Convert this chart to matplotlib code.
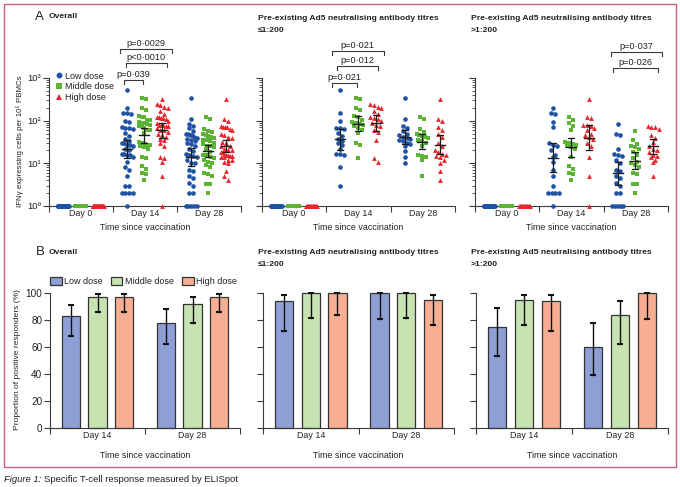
import numpy as np
import matplotlib
matplotlib.use('Agg')
import matplotlib.pyplot as plt
from matplotlib.patches import Rectangle, Patch
from matplotlib.lines import Line2D

FAM = ['Liberation Sans', 'DejaVu Sans']
plt.rcParams['font.family'] = FAM
plt.rcParams['axes.linewidth'] = 0.8

# ---------------- data ----------------
days = ['Day 0', 'Day 14', 'Day 28']
bar_days = ['Day 14', 'Day 28']
doses = ['Low dose', 'Middle dose', 'High dose']

# IFN-gamma ELISpot counts (non-responders plotted at 1)
# pre-existing Ad5 NAb <=1:200
le_low_d14 = [520, 150, 100, 68, 66, 64, 52, 44, 38, 34, 30, 27, 22, 17, 17, 16, 8, 3]
le_mid_d14 = [340, 320, 200, 180, 130, 120, 105, 95, 90, 85, 80, 75, 66, 60, 52, 30, 27, 13]
le_high_d14 = [250, 230, 210, 200, 170, 140, 125, 115, 110, 100, 88, 80, 75, 62, 55, 35, 13, 11]
le_low_d28 = [340, 110, 75, 66, 58, 50, 46, 42, 40, 38, 35, 33, 30, 28, 25, 19, 14, 10]
le_mid_d28 = [125, 110, 63, 55, 50, 46, 44, 42, 40, 36, 33, 30, 26, 16, 15, 14, 12, 5]
le_high_d28 = [330, 110, 100, 70, 60, 48, 42, 30, 26, 20, 18, 17, 16, 15, 14, 12, 10, 6.5, 4]
# pre-existing Ad5 NAb >1:200
gt_low_d14 = [200, 150, 140, 95, 70, 30, 27, 25, 20, 16, 14, 11, 7, 5, 3, 2, 2, 2, 2, 1]
gt_mid_d14 = [120, 105, 90, 75, 60, 32, 30, 28, 27, 25, 24, 22, 14, 8.5, 7.5, 6, 5.5, 4]
gt_high_d14 = [320, 125, 115, 80, 78, 75, 68, 60, 50, 45, 42, 38, 30, 25, 14, 5, 1]
gt_low_d28 = [85, 50, 45, 22, 17, 16, 15, 12, 10, 7, 6.5, 5, 4.5, 3.5, 3, 2, 2, 1, 1, 1, 1, 1]
gt_mid_d28 = [57, 35, 28, 26, 24, 22, 18, 16, 13, 11, 10, 9, 8, 6, 5.5, 3.2, 3.2, 2]
gt_high_d28 = [75, 72, 70, 65, 46, 40, 32, 25, 22, 20, 18, 16, 15, 14, 12, 11, 5]
baseline_value = 1  # day 0: no responders

# p-value brackets: (day, x0, x1, y, label)
a1_brackets = [(1, -0.33, -0.03, 897, 'p=0·039'),
               (1, -0.30, 0.34, 2245, 'p<0·0010'),
               (1, -0.39, 0.42, 4786, 'p=0·0029')]
a2_brackets = [(1, -0.41, -0.02, 763, 'p=0·021'),
               (1, -0.34, 0.31, 1910, 'p=0·012'),
               (1, -0.41, 0.39, 4294, 'p=0·021')]
a3_brackets = [(2, -0.35, 0.34, 1714, 'p=0·026'),
               (2, -0.38, 0.40, 4064, 'p=0·037')]

# proportion of positive responders (%) with 95% CI, [Day 14, Day 28]
ov_pct = [[83, 78], [97, 92], [97, 97]]
ov_lo = [[68, 62], [86, 78], [86, 86]]
ov_hi = [[91, 88], [99, 97], [99, 99]]
le_pct = [[94, 100], [100, 100], [100, 94.5]]
le_lo = [[72, 80.5], [81.5, 81.5], [84, 76.5]]
le_hi = [[98.3, 100], [100, 100], [100, 98.7]]
gt_pct = [[75, 60], [94.5, 84], [93.8, 100]]
gt_lo = [[53, 39], [76, 62], [71.6, 80.5]]
gt_hi = [[88.6, 78], [98.7, 94], [98.3, 100]]

# ---------------- style ----------------
W, H = 680, 487
fig = plt.figure(figsize=(W / 100, H / 100), dpi=100)

def fx(px):
    return px / W

def fy(py):
    return 1 - py / H

C_PTS = ['#1f52a3', '#5bb434', '#e5262b']
MARK = ['o', 's', '^']
MSIZE = [11, 9.5, 12]
C_BAR = ['#8e9fd6', '#c7e3b1', '#f8ae92']
AX = '#3a3a3a'
TXT = '#222222'
dose_off = [-0.28, -0.01, 0.27]
bar_off = [-0.28, 0.0, 0.28]
FS_TICK = 6.4
FS_TITLE = 6.1

top_x = [(49, 241), (262, 455), (475, 668)]
top_y = (78, 206)
bot_x = [(50, 240), (263, 454), (476, 668)]
bot_y = (293, 428)

def make_ax(xp, yp):
    return fig.add_axes([fx(xp[0]), fy(yp[1]), (xp[1] - xp[0]) / W, (yp[1] - yp[0]) / H])

def style_ax(ax):
    for s in ['top', 'right']:
        ax.spines[s].set_visible(False)
    for s in ['left', 'bottom']:
        ax.spines[s].set_color(AX)
        ax.spines[s].set_linewidth(0.8)
    ax.tick_params(which='major', length=4, width=0.8, color=AX, labelsize=FS_TICK, pad=1.5,
                   labelcolor=TXT)
    ax.tick_params(which='minor', length=2, width=0.6, color=AX, labelsize=FS_TICK, labelcolor=TXT)
    ax.patch.set_alpha(0)

def swarm(vals, w_px, h_px, xspan, row_px=4.2, d_px=4.0, maxw_px=11.0):
    vals = np.asarray(vals, float)
    py = np.log10(vals) * h_px / 3.0
    order = np.argsort(-py, kind='stable')
    offs = np.zeros(len(vals))
    i = 0
    while i < len(order):
        start = py[order[i]]
        j = i
        while j + 1 < len(order) and start - py[order[j + 1]] < row_px:
            j += 1
        row = order[i:j + 1]
        k = len(row)
        s = d_px if k == 1 else min(d_px, maxw_px / (k - 1))
        offs[row] = (np.arange(k) - (k - 1) / 2) * s
        i = j + 1
    return offs * xspan / w_px

def gm_ci(vals):
    lv = np.log10(np.asarray(vals, float))
    m = lv.mean()
    se = lv.std(ddof=1) / np.sqrt(len(lv))
    t = 2.08
    return 10 ** m, 10 ** (m - t * se), 10 ** (m + t * se)

def plot_top(ax, groups, xp, brackets, labels):
    w_px = xp[1] - xp[0]
    h_px = top_y[1] - top_y[0]
    ax.set_yscale('log')
    ax.set_ylim(1, 1000)
    ax.set_xlim(-0.5, 2.5)
    style_ax(ax)
    ax.set_xticks([-0.5, 0.5, 1.5, 2.5])
    ax.set_xticklabels([])
    ax.set_xticks([0, 1, 2], minor=True)
    ax.set_xticklabels(days, minor=True)
    ax.tick_params(axis='x', which='minor', length=0, pad=2.5)
    ax.set_yticks([1, 10, 100, 1000])
    ax.set_yticks([m * 10 ** e for e in range(3) for m in range(2, 10)], minor=True)
    if labels:
        ax.set_yticklabels(['10⁰', '10¹', '10²', '10³'])
        ax.tick_params(axis='y', labelsize=6.8)
    else:
        ax.set_yticklabels([])
    ax.yaxis.set_minor_formatter(plt.NullFormatter())
    upx = 3.0 / w_px
    for di in range(3):
        for gi in range(3):
            vals = np.asarray(groups[di][gi], float)
            x0 = di + dose_off[gi]
            offs = swarm(vals, w_px, h_px, 3.0)
            ax.scatter(x0 + offs, vals, s=MSIZE[gi], marker=MARK[gi], c=C_PTS[gi],
                       linewidths=0, clip_on=False, zorder=3)
            if di > 0:
                g, lo, hi = gm_ci(vals)
                ax.plot([x0 - 5 * upx, x0 + 5 * upx], [g, g], color='#1a1a1a', lw=1.0, zorder=5)
                ax.plot([x0, x0], [lo, hi], color='#1a1a1a', lw=0.9, zorder=5)
                for yy in (lo, hi):
                    ax.plot([x0 - 3 * upx, x0 + 3 * upx], [yy, yy], color='#1a1a1a', lw=0.9, zorder=5)
    fac = 10 ** (4.0 * 3 / h_px)
    tfac = 10 ** (1.0 * 3 / h_px)
    for (d, x0, x1, y, lab) in brackets:
        ax.plot([d + x0, d + x0, d + x1, d + x1], [y / fac, y, y, y / fac], color=AX, lw=0.8,
                clip_on=False, zorder=4)
        ax.text(d + (x0 + x1) / 2, y * tfac, lab, ha='center', va='bottom', fontsize=6.6,
                color=TXT, clip_on=False)

def plot_bot(ax, pct, lo, hi, xp, labels):
    ax.set_xlim(-0.5, 1.5)
    ax.set_ylim(0, 100)
    style_ax(ax)
    ax.set_xticks([-0.5, 0.5, 1.5])
    ax.set_xticklabels([])
    ax.set_xticks([0, 1], minor=True)
    ax.set_xticklabels(bar_days, minor=True)
    ax.tick_params(axis='x', which='minor', length=0, pad=2.5)
    ax.set_yticks([0, 20, 40, 60, 80, 100])
    if not labels:
        ax.set_yticklabels([])
    else:
        ax.tick_params(axis='y', labelsize=7.2)
    upx = 2.0 / (xp[1] - xp[0])
    for gi in range(3):
        xs = np.arange(2) + bar_off[gi]
        ax.bar(xs, pct[gi], width=0.19, color=C_BAR[gi], edgecolor='#333333', linewidth=0.9,
               zorder=2, clip_on=False)
        for x, l, h in zip(xs, lo[gi], hi[gi]):
            ax.plot([x, x], [l, h], color='#111', lw=1.0, zorder=4, clip_on=False)
            for yy in (l, h):
                ax.plot([x - 3 * upx, x + 3 * upx], [yy, yy], color='#111', lw=1.5, zorder=4,
                        clip_on=False, solid_capstyle='butt')

# ---------------- panel A ----------------
le_groups = [[[baseline_value] * len(le_low_d14), [baseline_value] * len(le_mid_d14), [baseline_value] * len(le_high_d14)],
             [le_low_d14, le_mid_d14, le_high_d14],
             [le_low_d28, le_mid_d28, le_high_d28]]
gt_groups = [[[baseline_value] * len(gt_low_d14), [baseline_value] * len(gt_mid_d14), [baseline_value] * len(gt_high_d14)],
             [gt_low_d14, gt_mid_d14, gt_high_d14],
             [gt_low_d28, gt_mid_d28, gt_high_d28]]
ov_groups = [[list(a) + list(b) for a, b in zip(ra, rb)] for ra, rb in zip(le_groups, gt_groups)]

axA1 = make_ax(top_x[0], top_y)
plot_top(axA1, ov_groups, top_x[0], a1_brackets, True)
axA2 = make_ax(top_x[1], top_y)
plot_top(axA2, le_groups, top_x[1], a2_brackets, False)
axA3 = make_ax(top_x[2], top_y)
plot_top(axA3, gt_groups, top_x[2], a3_brackets, False)

handles = [Line2D([], [], marker=MARK[i], ls='', color=C_PTS[i], markersize=4.2, markeredgewidth=0)
           for i in range(3)]
axA1.legend(handles, doses, loc='upper left', bbox_to_anchor=(0.04, 1.05), frameon=False,
            fontsize=6.5, handlelength=0.6, handletextpad=0.35, labelspacing=0.2,
            borderpad=0, borderaxespad=0, labelcolor=TXT)

# ---------------- panel B ----------------
axB1 = make_ax(bot_x[0], bot_y)
plot_bot(axB1, ov_pct, ov_lo, ov_hi, bot_x[0], True)
axB2 = make_ax(bot_x[1], bot_y)
plot_bot(axB2, le_pct, le_lo, le_hi, bot_x[1], False)
axB3 = make_ax(bot_x[2], bot_y)
plot_bot(axB3, gt_pct, gt_lo, gt_hi, bot_x[2], False)

phandles = [Patch(facecolor=C_BAR[i], edgecolor='#333333', linewidth=0.9) for i in range(3)]
axB1.legend(phandles, doses, loc='lower left', bbox_to_anchor=(0.0, 1.05), frameon=False, ncol=3,
            fontsize=6.5, handlelength=1.3, handleheight=0.9, handletextpad=0.3,
            columnspacing=0.85, borderpad=0, borderaxespad=0, labelcolor=TXT)

# ---------------- texts ----------------
def ftext(px, py, s, **kw):
    kw.setdefault('color', TXT)
    fig.text(fx(px), fy(py), s, **kw)

TT = 'Pre-existing Ad5 neutralising antibody titres'
ftext(35, 17, 'A', fontsize=9.5, va='center', ha='left')
ftext(49, 17, 'Overall', fontsize=FS_TITLE, fontweight='bold', va='center')
ftext(258, 18, TT, fontsize=FS_TITLE, fontweight='bold', va='center')
ftext(258, 31, '≤1:200', fontsize=FS_TITLE, fontweight='bold', va='center')
ftext(471, 18, TT, fontsize=FS_TITLE, fontweight='bold', va='center')
ftext(471, 31, '>1:200', fontsize=FS_TITLE, fontweight='bold', va='center')

ftext(36, 252, 'B', fontsize=9.5, va='center', ha='left')
ftext(49, 252, 'Overall', fontsize=FS_TITLE, fontweight='bold', va='center')
ftext(258, 252, TT, fontsize=FS_TITLE, fontweight='bold', va='center')
ftext(258, 265, '≤1:200', fontsize=FS_TITLE, fontweight='bold', va='center')
ftext(471, 252, TT, fontsize=FS_TITLE, fontweight='bold', va='center')
ftext(471, 265, '>1:200', fontsize=FS_TITLE, fontweight='bold', va='center')

for xp in top_x:
    ftext((xp[0] + xp[1]) / 2, 228, 'Time since vaccination', fontsize=6.4, ha='center', va='center')
for xp in bot_x:
    ftext((xp[0] + xp[1]) / 2, 455, 'Time since vaccination', fontsize=6.4, ha='center', va='center')

ftext(20, 141, 'IFNγ expressing cells per 10⁵ PBMCs', fontsize=5.7, rotation=90, ha='center', va='center')
ftext(18, 359, 'Proportion of positive responders (%)', fontsize=6.1, rotation=90, ha='center', va='center')

# frame
fig.patches.append(Rectangle((fx(4), fy(467)), 672 / W, 463 / H, transform=fig.transFigure,
                             fill=False, edgecolor='#cc5f80', linewidth=1.0))

# caption
renderer = fig.canvas.get_renderer()
t1 = fig.text(fx(4), fy(479), 'Figure 1:', fontsize=6.8, fontstyle='italic', va='center', ha='left',
              color=TXT)
bb = t1.get_window_extent(renderer)
fig.text(bb.x1 / W + 3 / W, fy(479), 'Specific T-cell response measured by ELISpot', fontsize=6.8,
         va='center', ha='left', color=TXT)

fig.savefig('out.png', dpi=100)
